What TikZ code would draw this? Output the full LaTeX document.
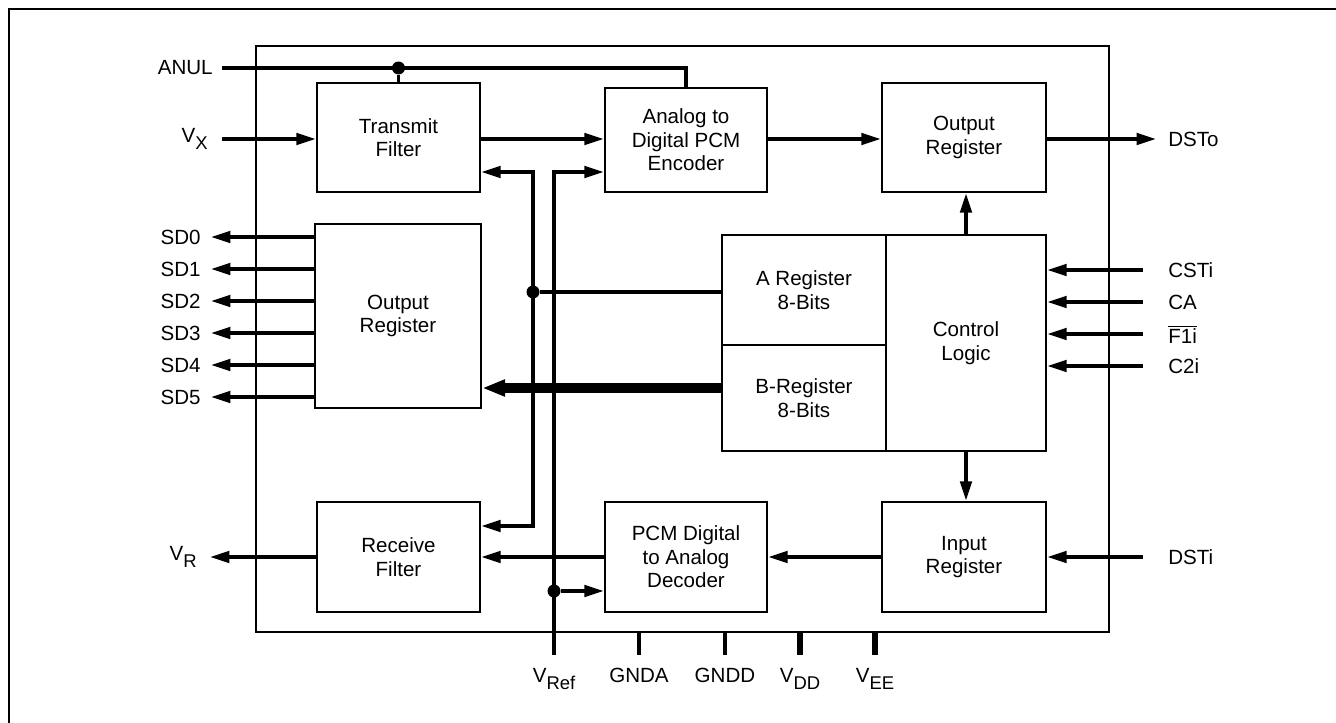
\documentclass[tikz,border=0pt]{standalone}
\usepackage{fontspec}
\setmainfont{Liberation Sans}
\usetikzlibrary{arrows.meta,positioning}
\newcommand{\pinsub}[1]{\raisebox{-0.6ex}{\fontsize{10.5}{10.5}\selectfont #1}}

\begin{document}
\begin{tikzpicture}[
  x=0.02cm, y=-0.02cm,
  font=\fontsize{11.7}{13.3}\selectfont,
  box/.style={draw, line width=1.5pt, align=center, inner sep=2pt, minimum width=3.26cm, minimum height=2.18cm},
  chipbox/.style={draw, line width=1.5pt, minimum width=17.06cm, minimum height=11.72cm},
  lbl/.style={inner sep=0pt},
  wire/.style={line width=2pt},
  arr/.style={wire, -{Triangle[length=11pt, width=6.5pt]}},
  biarr/.style={wire, {Triangle[length=11pt, width=6.5pt]}-{Triangle[length=11pt, width=6.5pt]}},
  bus/.style={line width=5.7pt, -{Triangle[length=13pt, width=9pt]}},
  junc/.style={circle, fill, inner sep=0pt, minimum size=0.26cm},
  pwr/.style={line width=3.4pt}
]
\useasboundingbox (0,0) rectangle (1336,723);
\draw[line width=1.5pt] (9,723) |- (1336,9);

% chip outline and blocks
\node[chipbox] (chip) at (682.5,339) {};
\node[box] (tf) at (398.5,137.5) {Transmit\\Filter};
\node[box, minimum width=3.24cm, minimum height=2.08cm] (enc) at (686,140) {Analog to\\Digital PCM\\Encoder};
\node[box, minimum width=3.28cm] (oreg) at (964,137.5) {Output\\Register};
\node[box, minimum width=3.32cm, minimum height=3.68cm] (sreg) at (398,316) {Output\\Register};
\node[box, minimum width=3.28cm, minimum height=2.2cm] (areg) at (804,290) {A Register\\8-Bits};
\node[box, minimum width=3.28cm, minimum height=2.12cm] (breg) at (804,398) {B-Register\\8-Bits};
\node[box, minimum width=3.2cm, minimum height=4.32cm] (ctl) at (966,343) {Control\\Logic};
\node[box, minimum height=2.2cm] (rf) at (398.5,557) {Receive\\Filter};
\node[box, minimum width=3.24cm, minimum height=2.2cm] (dec) at (686,557) {PCM Digital\\to Analog\\Decoder};
\node[box, minimum width=3.28cm, minimum height=2.2cm] (ireg) at (964,557) {Input\\Register};

% left side pins
\coordinate (anulin) at (222,68);
\node[lbl, left=1.8mm of anulin] (anul) {ANUL};
\draw[wire] (anulin) -| (enc.north);
\node[junc] (anulj) at (tf.north |- anulin) {};
\draw[wire] (anulj) -- (tf.north);

\coordinate (vxin) at (222,139);
\node[lbl, left=2.8mm of vxin] (vx) {V\pinsub{X}};
\draw[arr] (vxin) -- (tf.west |- vxin);

\foreach \i in {0,...,5} {
  \coordinate (sd\i) at (211,{237+32*\i});
  \draw[arr] (sreg.west |- sd\i) -- (sd\i);
  \node[lbl, left=2mm of sd\i] (sd\i-lbl) {SD\i};
}

\coordinate (vrout) at (210,557);
\node[lbl, left=2.6mm of vrout] (vr) {V\pinsub{R}};
\draw[arr] (rf.west) -- (vrout);

% data path
\draw[arr] (tf.east |- vxin) -- (enc.west |- vxin);
\draw[arr] (enc.east |- vxin) -- (oreg.west |- vxin);
\draw[arr] (ctl.north) -- (ctl.north |- oreg.south);
\draw[arr] (ctl.south) -- (ctl.south |- ireg.north);
\draw[arr] (ireg.west) -- (dec.east);
\draw[arr] (dec.west) -- (rf.east);

\coordinate (busin) at (722,388);
\draw[bus] (busin) -- (sreg.east |- busin);

% filter control line
\coordinate (rtop) at (533,172);
\coordinate (rbot) at (533,526);
\draw[biarr] (tf.east |- rtop) -- (rtop) -- (rbot) -- (rf.east |- rbot);
\node[junc] (atap) at (533,292) {};
\draw[wire] (atap) -- (areg.west |- atap);

% reference line
\coordinate (pref) at (554,655);
\coordinate (vtop) at (554,172);
\draw[arr] (pref) -- (vtop) -- (enc.west |- vtop);
\node[junc] (vtap) at (554,591) {};
\draw[arr] (vtap) -- (dec.west |- vtap);

% bottom pins
\coordinate (pgnda) at (639,655);
\coordinate (pgndd) at (725,655);
\coordinate (pvdd) at (800,655);
\coordinate (pvee) at (875,655);
\draw[wire] (pgnda |- chip.south) -- (pgnda);
\draw[wire] (pgndd |- chip.south) -- (pgndd);
\draw[pwr] (pvdd |- chip.south) -- (pvdd);
\draw[pwr] (pvee |- chip.south) -- (pvee);
\node[lbl, below=2.6mm of pref] (vref) {V\pinsub{Ref}};
\node[lbl, below=2.6mm of pgnda] (gnda) {GNDA};
\node[lbl, below=2.6mm of pgndd] (gndd) {GNDD};
\node[lbl, below=2.6mm of pvdd] (vdd) {V\pinsub{DD}};
\node[lbl, below=2.6mm of pvee] (vee) {V\pinsub{EE}};

% right side pins
\coordinate (dsto) at (1156,139);
\draw[arr] (oreg.east |- dsto) -- (dsto);
\node[lbl, right=2.4mm of dsto] (dsto-lbl) {DSTo};
\foreach \name/\y/\txt in {csti/270/CSTi, ca/302/CA, fi/334/{$\overline{\mbox{F1i}}$}, cti/366/C2i} {
  \coordinate (\name) at (1143,\y);
  \draw[arr] (\name) -- (ctl.east |- \name);
  \node[lbl, right=5mm of \name] (\name-lbl) {\txt};
}
\coordinate (dsti) at (1143,557);
\draw[arr] (dsti) -- (ireg.east |- dsti);
\node[lbl, right=5mm of dsti] (dsti-lbl) {DSTi};
\end{tikzpicture}
\end{document}
